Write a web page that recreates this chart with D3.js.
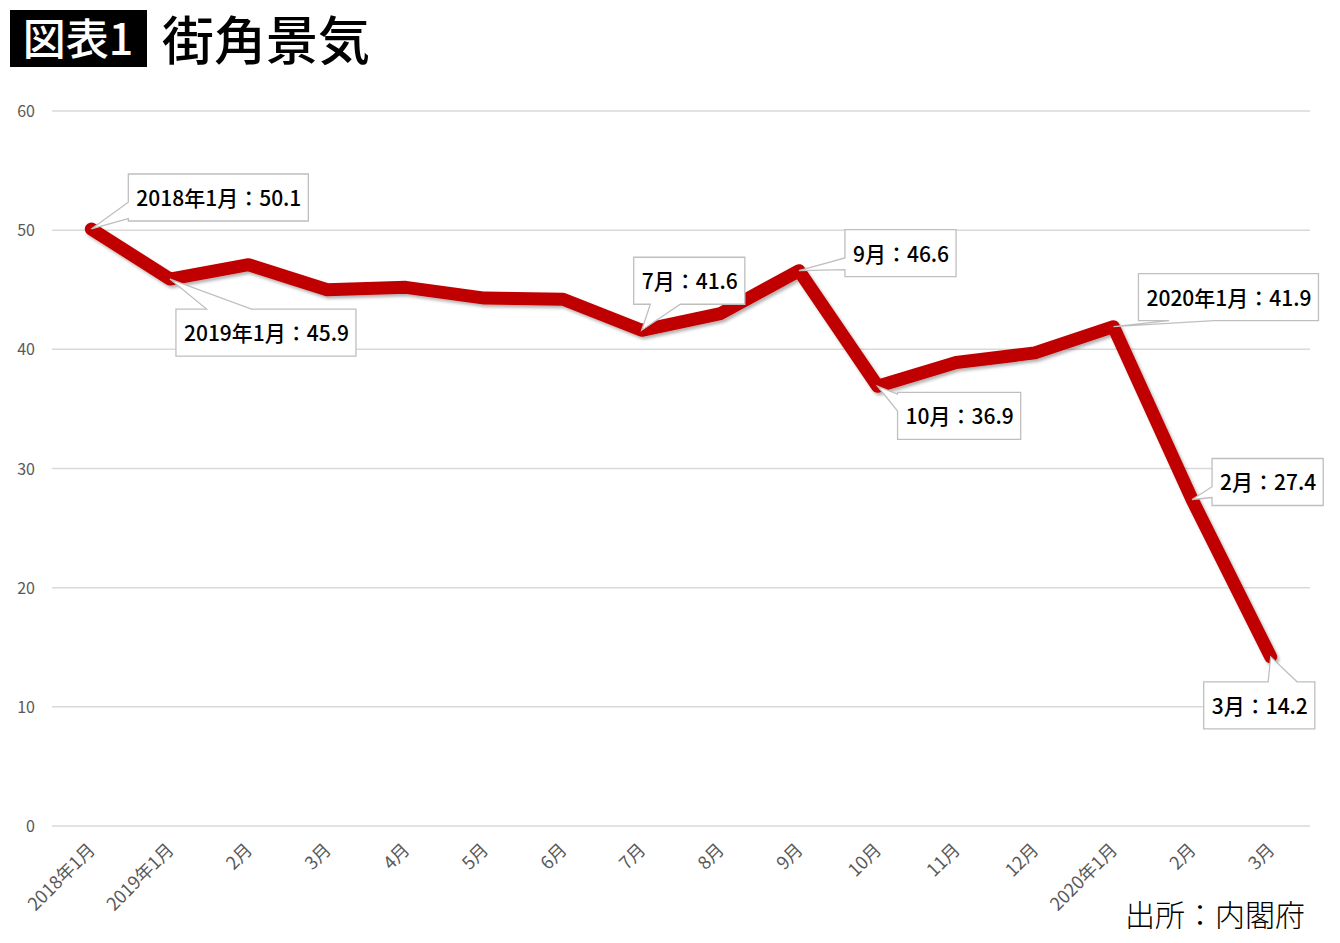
<!DOCTYPE html>
<html>
<head>
<meta charset="utf-8">
<script src="https://cdn.jsdelivr.net/npm/d3@7"></script>
<style>
  body { margin: 0; background: #fff; }
  svg { display: block; }
</style>
</head>
<body>
<div id="chart"></div>
<script>
const w = 1340, h = 943;

// data
const months = ["2018年1月", "2019年1月", "2月", "3月", "4月", "5月", "6月", "7月",
                "8月", "9月", "10月", "11月", "12月", "2020年1月", "2月", "3月"];
const values = [50.1, 45.9, 47.1, 45.0, 45.2, 44.3, 44.2, 41.6,
                43.0, 46.6, 36.9, 38.9, 39.7, 41.9, 27.4, 14.2];
const yTicks = [0, 10, 20, 30, 40, 50, 60];
const calloutIdx = [0, 1, 7, 9, 10, 13, 14, 15];
const calloutText = ["2018年1月：50.1", "2019年1月：45.9", "7月：41.6", "9月：46.6",
                     "10月：36.9", "2020年1月：41.9", "2月：27.4", "3月：14.2"];

// callout placement: box offset from the point, side the wedge leaves from, wedge base span
const calloutLayout = [
  { dx: 37,  dy: -55, side: "left",   a: 0.6,  b: 0.95 },
  { dx: 6,   dy: 30,  side: "top",    a: 0.17, b: 0.42 },
  { dx: -8,  dy: -73, side: "bottom", a: 0.15, b: 0.42 },
  { dx: 46,  dy: -41, side: "left",   a: 0.6,  b: 0.85 },
  { dx: 20,  dy: 6,   side: "left",   a: 0.04, b: 0.4 },
  { dx: 25,  dy: -53, side: "bottom", a: 0.17, b: 0.42 },
  { dx: 20,  dy: -41, side: "left",   a: 0.6,  b: 0.83 },
  { dx: -67, dy: 25,  side: "top",    a: 0.58, b: 0.84 }
];

const font = "'Noto Sans CJK JP', 'Noto Sans', sans-serif";

const svg = d3.select("#chart")
  .append("svg")
  .attr("width", w)
  .attr("height", h)
  .style("font-family", font);

const defs = svg.append("defs");
const shadow = defs.append("filter").attr("id", "shadow")
  .attr("x", "-5%").attr("y", "-5%").attr("width", "110%").attr("height", "120%");
shadow.append("feDropShadow")
  .attr("dx", 2).attr("dy", 2.5).attr("stdDeviation", 1.8)
  .attr("flood-color", "#000").attr("flood-opacity", 0.3);

// title
svg.append("rect").attr("x", 10).attr("y", 10).attr("width", 137).attr("height", 57).attr("fill", "#000");
svg.append("text").attr("x", 78).attr("y", 55).attr("text-anchor", "middle")
  .attr("fill", "#fff").attr("font-size", 43).attr("font-weight", 500).text("図表1");
svg.append("text").attr("x", 162).attr("y", 60)
  .attr("fill", "#000").attr("font-size", 52).attr("font-weight", 500).text("街角景気");

const plotLeft = 52, plotRight = 1310, plotTop = 111, plotBottom = 826;

const xScale = d3.scaleBand()
  .domain(d3.range(months.length))
  .range([plotLeft, plotRight]);

const yScale = d3.scaleLinear()
  .domain([0, 60])
  .range([plotBottom, plotTop]);

const cx = i => xScale(i) + xScale.bandwidth() / 2;

// gridlines
svg.append("g")
  .selectAll("line")
  .data(yTicks)
  .join("line")
  .attr("x1", plotLeft).attr("x2", plotRight)
  .attr("y1", d => yScale(d)).attr("y2", d => yScale(d))
  .attr("stroke", "#d9d9d9")
  .attr("stroke-width", 1.5);

// y labels
svg.append("g")
  .selectAll("text")
  .data(yTicks)
  .join("text")
  .attr("x", 35)
  .attr("y", d => yScale(d) + 6)
  .attr("text-anchor", "end")
  .attr("font-size", 16)
  .attr("fill", "#595959")
  .text(d => d);

// x labels, rotated
svg.append("g")
  .selectAll("text")
  .data(months)
  .join("text")
  .attr("text-anchor", "end")
  .attr("font-size", 18)
  .attr("fill", "#595959")
  .attr("transform", (d, i) => "translate(" + (cx(i) + 5) + "," + 851 + ") rotate(-45)")
  .text(d => d);

// the line
svg.append("path")
  .datum(values)
  .attr("fill", "none")
  .attr("stroke", "#c00000")
  .attr("stroke-width", 13)
  .attr("stroke-linejoin", "round")
  .attr("stroke-linecap", "round")
  .attr("filter", "url(#shadow)")
  .attr("d", d3.line()
    .x((d, i) => cx(i))
    .y(d => yScale(d)));

// callouts
function calloutPath(px, py, x0, y0, bw, bh, side, a, b) {
  const x1 = x0 + bw, y1 = y0 + bh;
  const p = d3.path();
  p.moveTo(x0, y0);
  if (side === "top") {
    p.lineTo(x0 + bw * a, y0); p.lineTo(px, py); p.lineTo(x0 + bw * b, y0);
  }
  p.lineTo(x1, y0);
  if (side === "right") {
    p.lineTo(x1, y0 + bh * a); p.lineTo(px, py); p.lineTo(x1, y0 + bh * b);
  }
  p.lineTo(x1, y1);
  if (side === "bottom") {
    p.lineTo(x0 + bw * b, y1); p.lineTo(px, py); p.lineTo(x0 + bw * a, y1);
  }
  p.lineTo(x0, y1);
  if (side === "left") {
    p.lineTo(x0, y0 + bh * b); p.lineTo(px, py); p.lineTo(x0, y0 + bh * a);
  }
  p.closePath();
  return p.toString();
}

const callG = svg.append("g");
calloutIdx.forEach((idx, k) => {
  const lay = calloutLayout[k];
  const px = cx(idx), py = yScale(values[idx]);
  const g = callG.append("g");
  const path = g.append("path");
  const t = g.append("text")
    .attr("font-size", 21)
    .attr("font-weight", 500)
    .attr("fill", "#000")
    .text(calloutText[k]);
  const tw = t.node().getComputedTextLength();
  const bw = tw + 15, bh = 47;
  const x0 = px + lay.dx, y0 = py + lay.dy;
  t.attr("x", x0 + 8).attr("y", y0 + 32);
  path.attr("d", calloutPath(px, py, x0, y0, bw, bh, lay.side, lay.a, lay.b))
    .attr("fill", "#fff")
    .attr("stroke", "#bfbfbf")
    .attr("stroke-width", 1.3);
});

// source
svg.append("text")
  .attr("x", 1305).attr("y", 926)
  .attr("text-anchor", "end")
  .attr("font-size", 30)
  .attr("font-weight", 300)
  .attr("fill", "#000")
  .text("出所：内閣府");
</script>
</body>
</html>
